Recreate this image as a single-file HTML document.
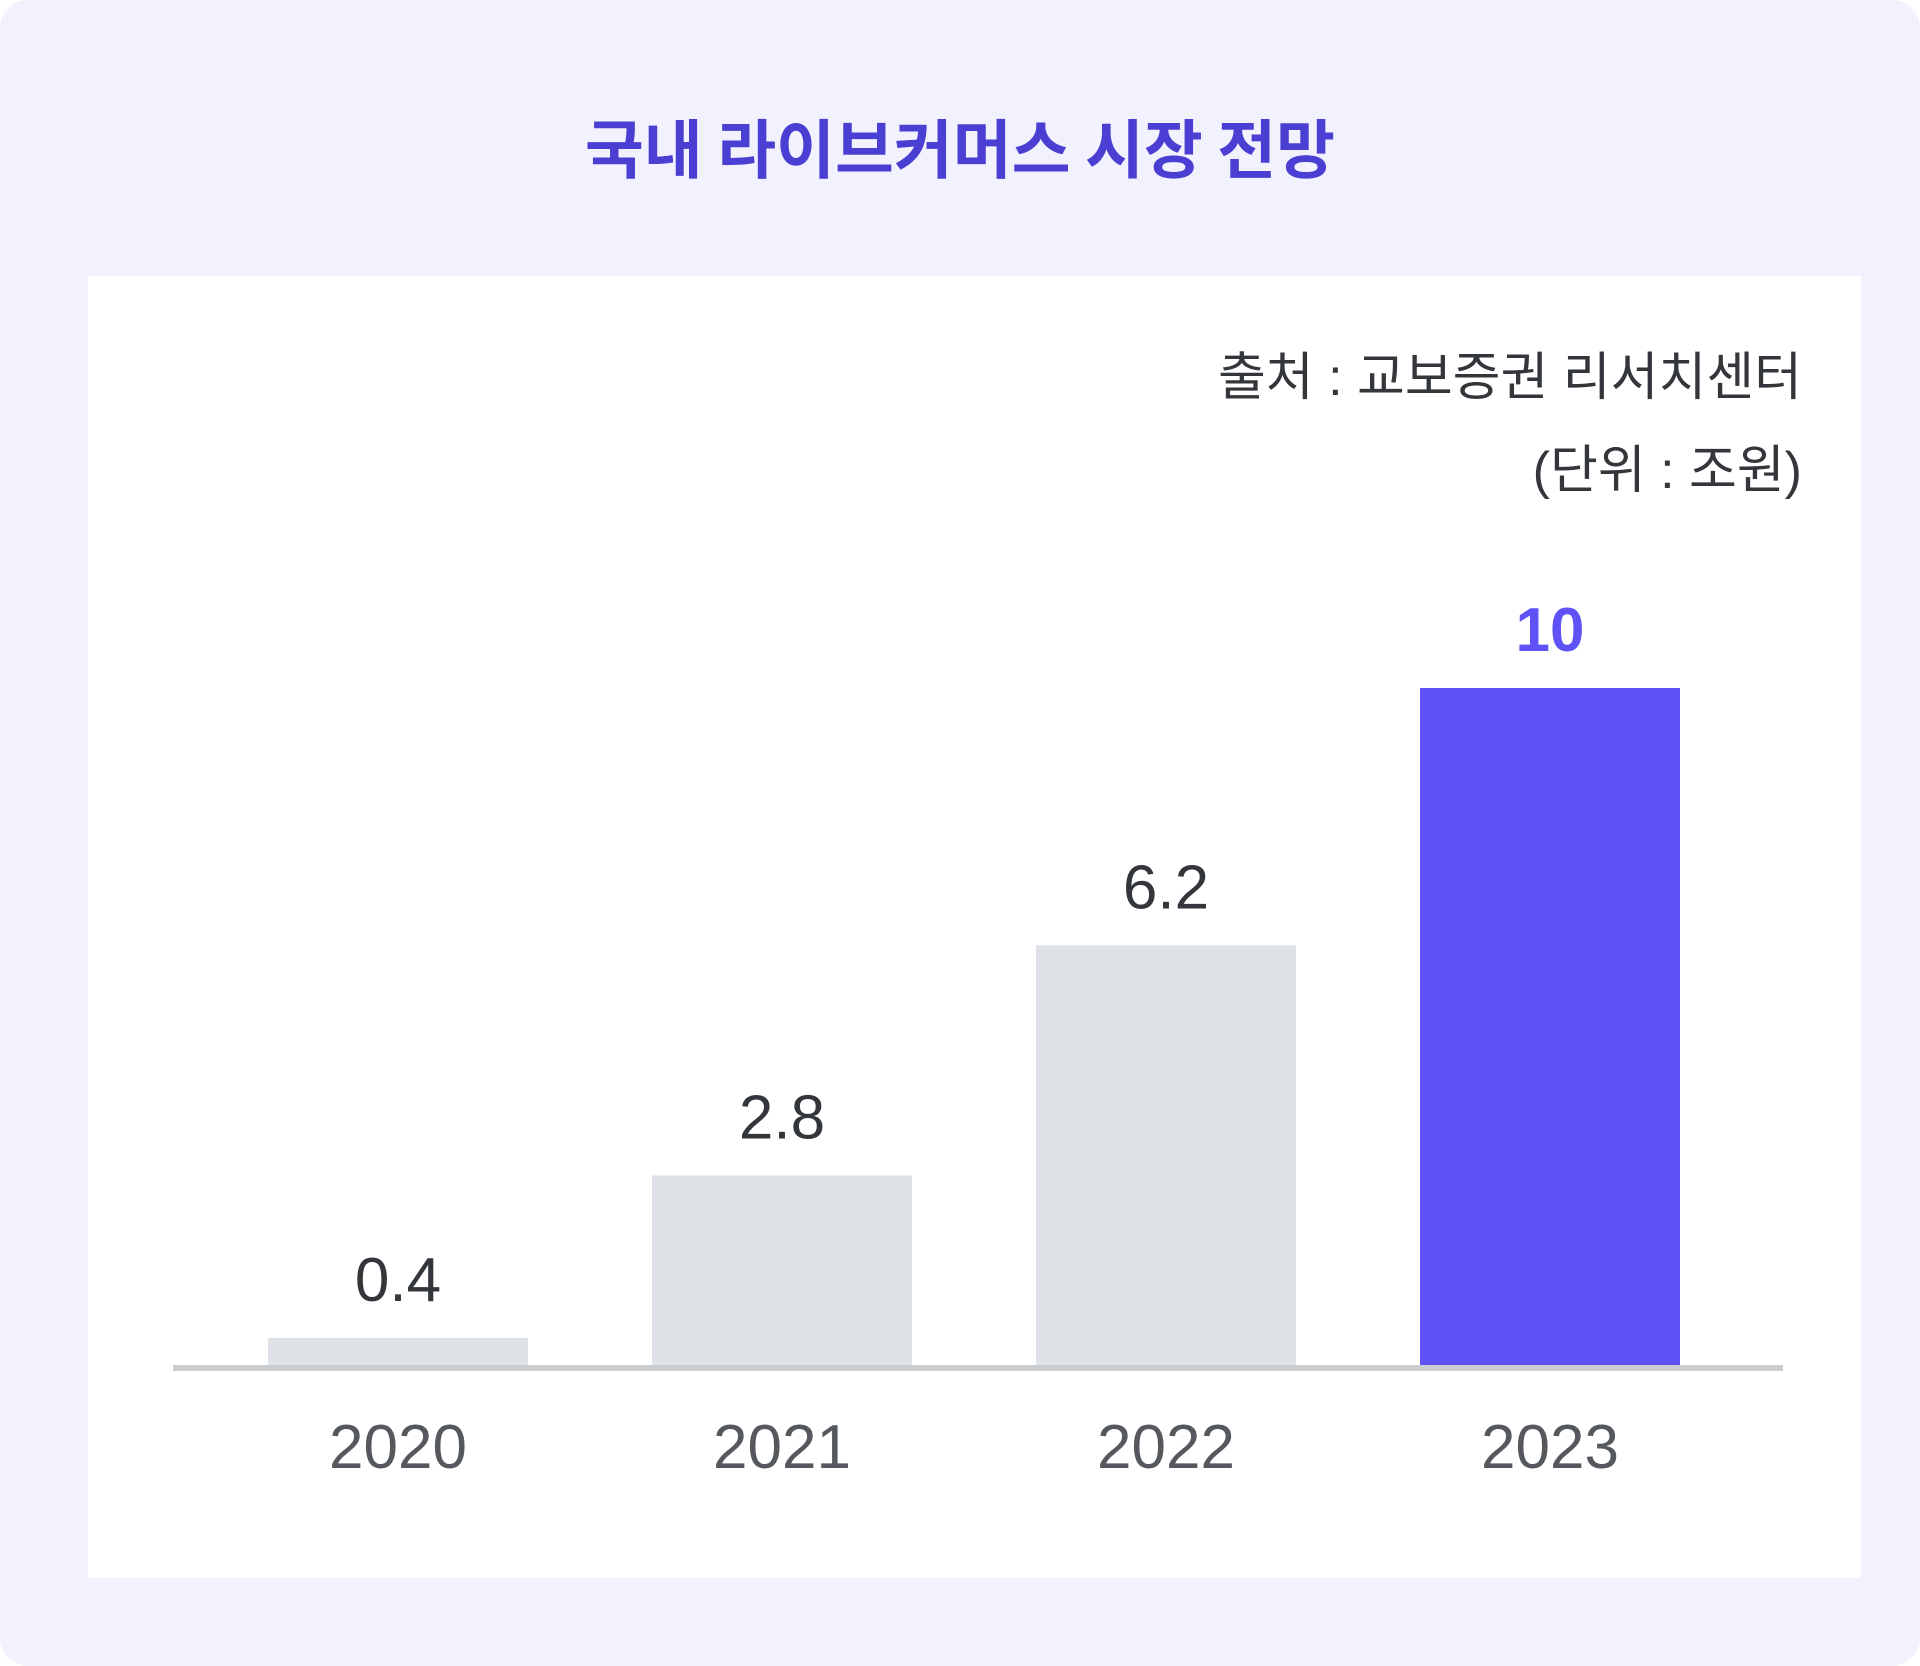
<!DOCTYPE html>
<html><head><meta charset="utf-8"><style>
html,body{margin:0;padding:0;background:#fff;}
#card{position:absolute;left:0;top:0;width:1920px;height:1666px;background:#f2f2fe;border-radius:28px;overflow:hidden;font-family:"Liberation Sans","Noto Sans CJK KR",sans-serif;}
#title{position:absolute;left:0;width:1920px;top:100px;text-align:center;font-size:64px;font-weight:bold;color:#4a3fd2;font-family:"Noto Sans CJK KR","Liberation Sans",sans-serif;}
#panel{position:absolute;left:88px;top:276px;width:1773px;height:1302px;background:#fff;}
.src{position:absolute;right:118px;font-size:52px;color:#33363a;font-family:"Liberation Sans","Noto Sans CJK KR",sans-serif;white-space:nowrap;}
svg{position:absolute;left:0;top:0;}
</style></head><body>
<div id="card">
<div id="title">국내 라이브커머스 시장 전망</div>
<div id="panel"></div>
<div class="src" style="top:335px">출처 : 교보증권 리서치센터</div>
<div class="src" style="top:428px">(단위 : 조원)</div>
<svg id="chart" width="1920" height="1666"></svg>
</div>
<script>
const categories = ["2020","2021","2022","2023"];
const values = [0.4, 2.8, 6.2, 10];
const valueLabels = ["0.4","2.8","6.2","10"];
const highlightIndex = 3;

const NS="http://www.w3.org/2000/svg";
const svg=document.getElementById('chart');
const baseY=1365, pxPerUnit=67.7;
const firstX=268, step=384, barW=260;
function xPos(i){return firstX+i*step;}
function yPos(v){return baseY-v*pxPerUnit;}
function mk(tag,attrs){const e=document.createElementNS(NS,tag);for(const k in attrs)e.setAttribute(k,attrs[k]);return e;}

categories.forEach((c,i)=>{
  const v=values[i], hl=i===highlightIndex;
  const r=mk('rect',{x:xPos(i),y:yPos(v),width:barW,height:baseY-yPos(v),fill:hl?'#5f52f7':'#dfe3e7'});
  
  
  svg.appendChild(r);
  const t=mk('text',{x:xPos(i)+barW/2,y:yPos(v)-37,'text-anchor':'middle','font-size':'62','font-family':'Liberation Sans, sans-serif',fill:hl?'#5f52f7':'#33363a','font-weight':hl?'bold':'normal'});
  t.textContent=valueLabels[i];
  
  
  svg.appendChild(t);
  const y=mk('text',{x:xPos(i)+barW/2,y:1468,'text-anchor':'middle','font-size':'62','font-family':'Liberation Sans, sans-serif',fill:'#55595e'});
  y.textContent=c;
  
  
  svg.appendChild(y);
});
const ax=mk('rect',{x:173,y:baseY,width:1610,height:6,fill:'#c9cdd2'});


svg.appendChild(ax);
</script>
</body></html>
